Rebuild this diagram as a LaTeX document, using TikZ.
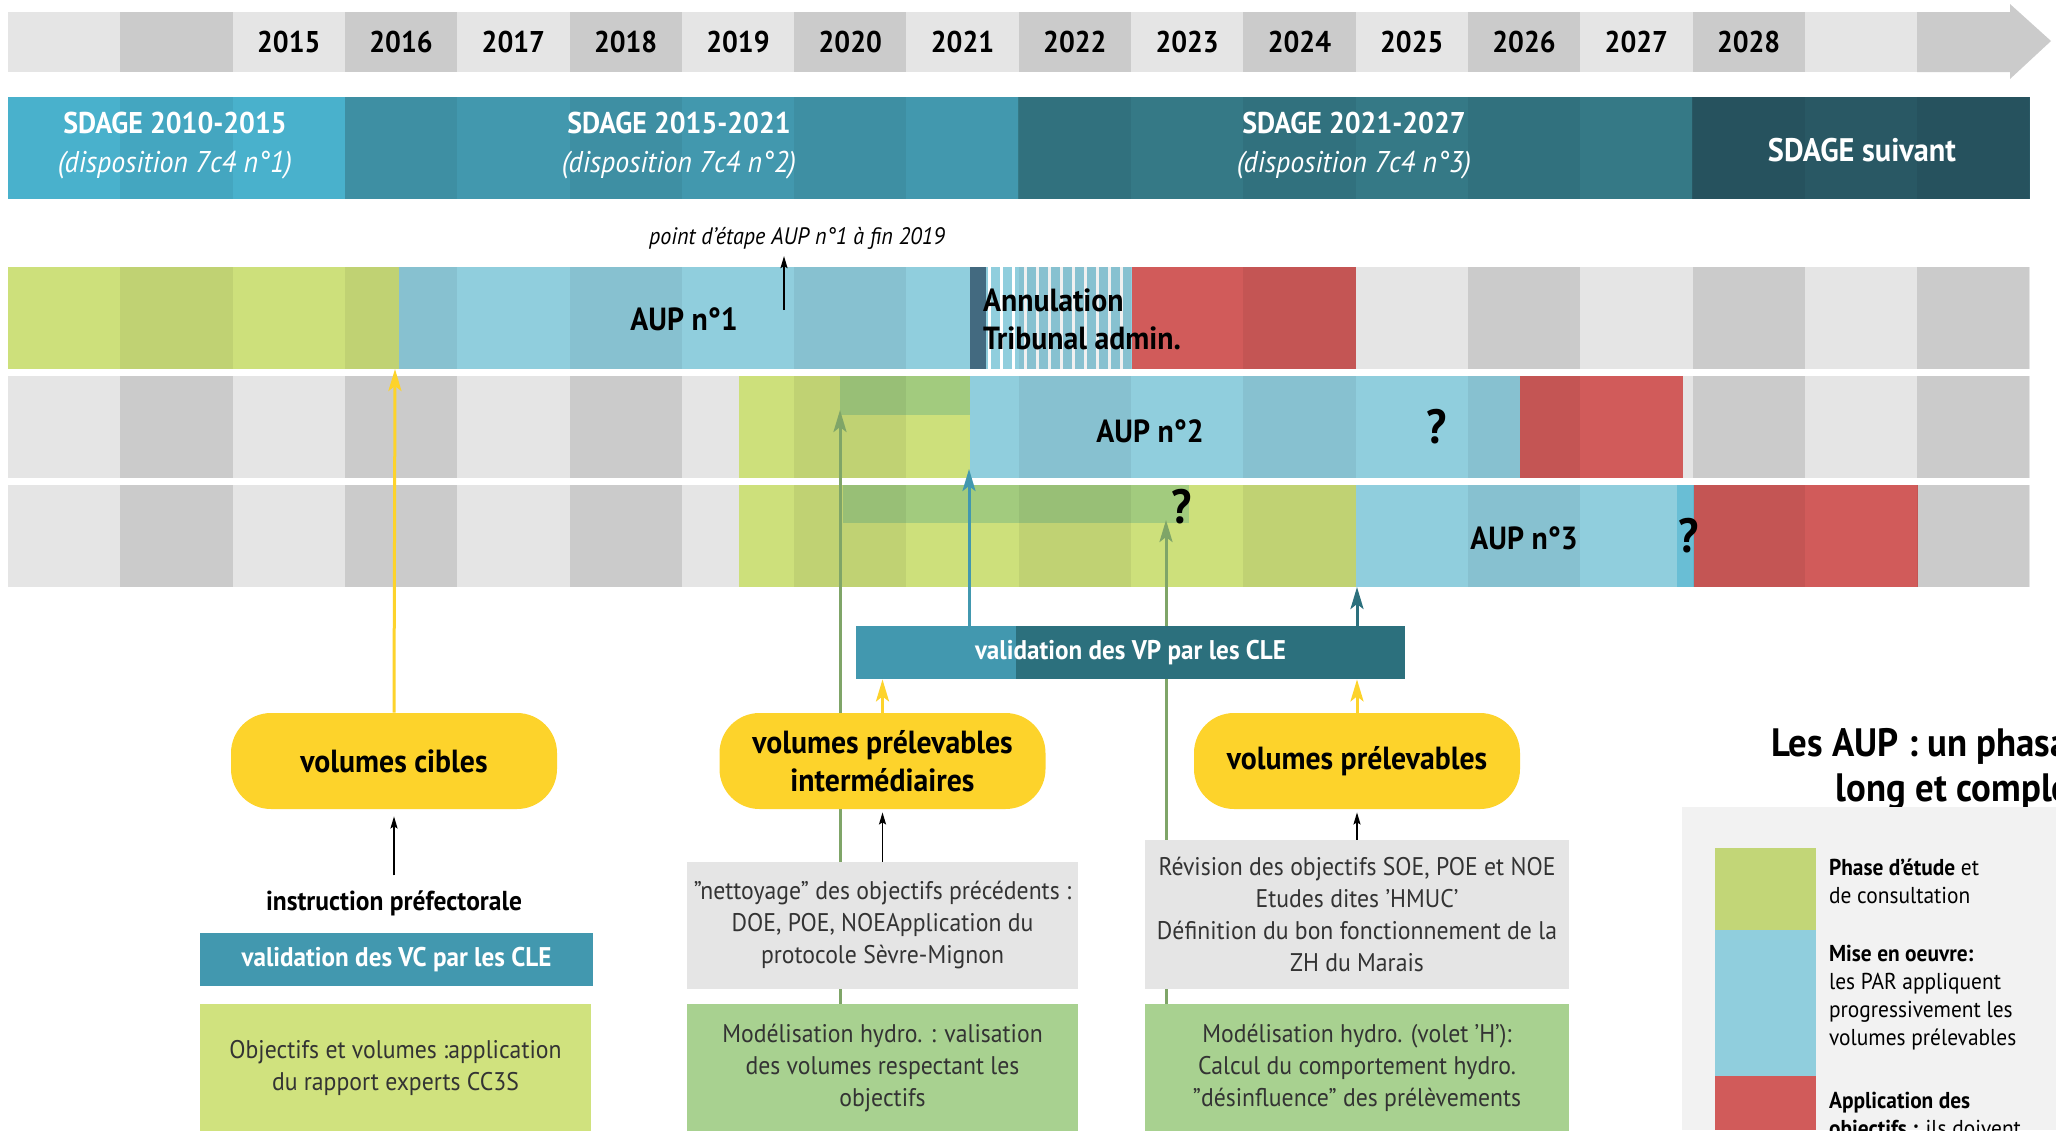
\documentclass[tikz,border=0pt]{standalone}
\usepackage{fontspec}
\setmainfont{PT Sans}[FakeStretch=0.93]
\usetikzlibrary{arrows.meta}

\definecolor{glight}{HTML}{E5E5E5}
\definecolor{gmid}{HTML}{D8D8D8}
\definecolor{sdageA}{HTML}{49B1CC}
\definecolor{sdageB}{HTML}{4298AE}
\definecolor{sdageC}{HTML}{357986}
\definecolor{sdageD}{HTML}{295864}
\definecolor{etude}{HTML}{CDE07B}
\definecolor{etudefonce}{HTML}{A2CB7E}
\definecolor{oeuvre}{HTML}{90CEDD}
\definecolor{oeuvrevif}{HTML}{69BED5}
\definecolor{annul}{HTML}{436A80}
\definecolor{applic}{HTML}{D15B5A}
\definecolor{jaune}{HTML}{FDD32B}
\definecolor{vert}{HTML}{7FA568}
\definecolor{cleclair}{HTML}{4298AF}
\definecolor{clefonce}{HTML}{2C707D}
\definecolor{boxgris}{HTML}{E5E5E5}
\definecolor{boxvert}{HTML}{A8D190}
\definecolor{boxlime}{HTML}{D0E27E}
\definecolor{boxtexte}{HTML}{333333}
\definecolor{legfond}{HTML}{F2F2F2}
\definecolor{legvert}{HTML}{C2D677}

\pgfdeclarelayer{front}
\pgfsetlayers{main,front}

\begin{document}
\begin{tikzpicture}[x=0.5pt,y=-0.5pt,
    yearlbl/.style={font=\fontsize{15}{18}\selectfont\bfseries},
    sdagelbl/.style={text=white,align=center,font=\fontsize{15}{19.5}\selectfont},
    auplbl/.style={font=\fontsize{16}{19}\selectfont\bfseries},
    qmark/.style={font=\fontsize{24}{24}\selectfont\bfseries},
    pill/.style={fill=jaune,rounded corners=20pt,minimum width=163pt,minimum height=48pt,align=center,font=\fontsize{16}{19}\selectfont\bfseries},
    clebox/.style={text=white,minimum height=26.5pt,font=\fontsize{13.5}{15}\selectfont\bfseries},
    txtbox/.style={align=center,text=boxtexte,font=\fontsize{12.75}{16}\selectfont},
    legtxt/.style={anchor=west,align=left,font=\fontsize{11.5}{14}\selectfont},
    link/.style={line width=1.5pt,-{Stealth[length=11pt,width=6.5pt,inset=2.5pt]}},
    blackarrow/.style={line width=0.8pt,-{Stealth[length=6pt,width=3.5pt,inset=1pt]}}
  ]
  \useasboundingbox (0,0) rectangle (2056,1130);
  \clip (0,0) rectangle (2056,1130);

  % frise des annees
  \fill[glight] (8,12) rectangle (2010,72);
  \foreach \c in {1,3,...,15}
    \fill[gmid!94!black] ({8+112.3*\c},12) rectangle ({8+112.3*(\c+1)},72);
  \fill[gmid!94!black] (1917,12) -- (2010,12) -- (2010,4) -- (2051,41) -- (2010,79) -- (2010,72) -- (1917,72) -- cycle;
  \foreach \yr [count=\i from 2] in {2015,...,2028}
    \node[yearlbl] (y\yr) at ({8+112.3*(\i+0.5)},42) {\yr};

  % SDAGE
  \fill[sdageA] (8,97) rectangle (345,199);
  \fill[sdageB] (345,97) rectangle (1018,199);
  \fill[sdageC] (1018,97) rectangle (1692,199);
  \fill[sdageD] (1692,97) rectangle (2030,199);

  % lignes AUP
  \foreach \t in {267,376,485} {
    \fill[glight] (8,\t) rectangle (2030,{\t+102});
    \foreach \c in {1,3,...,17}
      \fill[gmid] ({8+112.3*\c},\t) rectangle ({min(8+112.3*(\c+1),2030)},{\t+102});
  }
  \fill[etude] (8,267) rectangle (399,369);
  \fill[oeuvre] (399,267) rectangle (970,369);
  \fill[annul] (970,267) rectangle (986,369);
  \fill[oeuvre] (986,267) rectangle (1132,369);
  \foreach \x in {988,1000,...,1124}
    \fill[white] (\x,267) rectangle ({\x+2.5},369);
  \fill[applic] (1132,267) rectangle (1356,369);

  \fill[etude] (739,376) rectangle (970,478);
  \fill[etudefonce] (840,376) rectangle (970,415);
  \fill[oeuvre] (970,376) rectangle (1520,478);
  \fill[applic] (1520,376) rectangle (1683,478);

  \fill[etude] (739,485) rectangle (1356,587);
  \fill[etudefonce] (843,485) rectangle (1189,523);
  \fill[oeuvre] (1356,485) rectangle (1677,587);
  \fill[oeuvrevif] (1677,485) rectangle (1694,587);
  \fill[applic] (1694,485) rectangle (1918,587);

  \foreach \t in {97,267,376,485}
    \foreach \c in {1,3,...,17}
      \fill[black,fill opacity=.06] ({8+112.3*\c},\t) rectangle ({min(8+112.3*(\c+1),2030)},{\t+102});

  \node[sdagelbl] (sd1) at (175,146) {\textbf{SDAGE 2010-2015}\\\textit{(disposition 7c4 n°1)}};
  \node[sdagelbl] (sd2) at (679,146) {\textbf{SDAGE 2015-2021}\\\textit{(disposition 7c4 n°2)}};
  \node[sdagelbl] (sd3) at (1354,146) {\textbf{SDAGE 2021-2027}\\\textit{(disposition 7c4 n°3)}};
  \node[sdagelbl,font=\fontsize{16.3}{20}\selectfont\bfseries] (sd4) at (1862,150) {SDAGE suivant};

  \node[auplbl] (aup1) at (684,319) {AUP n°1};
  \node[auplbl,anchor=west,align=left] (annul) at (976,319) {Annulation\\Tribunal admin.};
  \node[auplbl] (aup2) at (1150,431) {AUP n°2};
  \node[qmark] (q1) at (1437,427) {?};
  \node[qmark] (q2) at (1182,507) {?};
  \node[auplbl] (aup3) at (1524,538) {AUP n°3};
  \node[qmark] (q3) at (1689,536) {?};

  \node[font=\fontsize{11.9}{13}\selectfont\itshape] (etape) at (797,238) {point d'étape AUP n°1 à fin 2019};
  \coordinate (etapefoot) at (784,310);
  \draw[blackarrow] (etapefoot) -- (etapefoot |- etape.south);

  % volumes et validations
  \begin{pgfonlayer}{front}
    \node[pill] (cibles) at (394,761) {volumes cibles};
    \node[pill] (interm) at (882.5,761) {volumes prélevables\\intermédiaires};
    \node[pill] (prelev) at (1357,761) {volumes prélevables};
    \node[clebox,fill=clefonce,minimum width=274.5pt,
      path picture={\fill[cleclair] (path picture bounding box.south west) rectangle ([xshift=80pt]path picture bounding box.north west);}]
      (vp) at (1130.5,652.5) {validation des VP par les CLE};
    \node[font=\fontsize{13.7}{15}\selectfont\bfseries] (instr) at (394,903) {instruction préfectorale};
    \node[clebox,fill=cleclair,minimum width=196.5pt] (vc) at (396.5,959.5) {validation des VC par les CLE};
    \node[txtbox,fill=boxlime,minimum width=195.5pt,minimum height=64pt] (obj) at (395.5,1068) {Objectifs et volumes :application\\du rapport experts CC3S};
    \node[txtbox,fill=boxgris,minimum width=195.5pt,minimum height=63.5pt] (nett) at (882.5,925.5) {"nettoyage" des objectifs précédents :\\DOE, POE, NOEApplication du\\protocole Sèvre-Mignon};
    \node[txtbox,fill=boxvert,minimum width=195.5pt,minimum height=64pt] (mod1) at (882.5,1068) {Modélisation hydro. : valisation\\des volumes respectant les\\objectifs};
    \node[txtbox,fill=boxgris,minimum width=212pt,minimum height=74.5pt] (rev) at (1357,914.5) {Révision des objectifs SOE, POE et NOE\\Etudes dites 'HMUC'\\Définition du bon fonctionnement de la\\ZH du Marais};
    \node[txtbox,fill=boxvert,minimum width=212pt,minimum height=64pt] (mod2) at (1357,1068) {Modélisation hydro. (volet 'H'):\\Calcul du comportement hydro.\\"désinfluence" des prélèvements};
  \end{pgfonlayer}

  \coordinate (r1) at (395,369);
  \coordinate (g1) at (840,410);
  \coordinate (b1) at (969,469);
  \coordinate (g2) at (1166,520);
  \coordinate (b2) at (1357,587);
  \draw[link,jaune] (cibles.north) -- (r1);
  \draw[link,vert] (g1 |- mod1.north) -- (g1);
  \draw[link,cleclair] (b1 |- vp.north) -- (b1);
  \draw[link,vert] (g2 |- mod2.north) -- (g2);
  \draw[link,clefonce] (vp.north -| b2) -- (b2);
  \draw[link,jaune] (interm.north) -- (interm.north |- vp.south);
  \draw[link,jaune] (prelev.north) -- (prelev.north |- vp.south);
  \draw[blackarrow,shorten <=4pt,shorten >=3.5pt] (instr.north) -- (cibles.south);
  \draw[blackarrow,shorten >=1.5pt] (nett.north) -- (interm.south);
  \draw[blackarrow,shorten >=1.5pt] (rev.north) -- (prelev.south);

  % legende
  \node[anchor=north west,align=right,font=\fontsize{19.8}{22.5}\selectfont\bfseries] (legtitre) at (1764,721) {Les AUP : un phasage\\long et complexe};
  \fill[legfond] (1682,807) rectangle (2056,1130);
  \fill[legvert] (1715,848) rectangle (1816,930);
  \fill[oeuvre] (1715,930) rectangle (1816,1076);
  \fill[applic] (1715,1076) rectangle (1816,1130);
  \node[legtxt] (leg1) at (1822,881) {\textbf{Phase d'étude} et\\de consultation};
  \node[legtxt] (leg2) at (1822,998) {\textbf{Mise en oeuvre:}\\les PAR appliquent\\progressivement les\\volumes prélevables};
  \node[legtxt] (leg3) at (1822,1117) {\textbf{Application des}\\\textbf{objectifs :} ils doivent};
\end{tikzpicture}
\end{document}
